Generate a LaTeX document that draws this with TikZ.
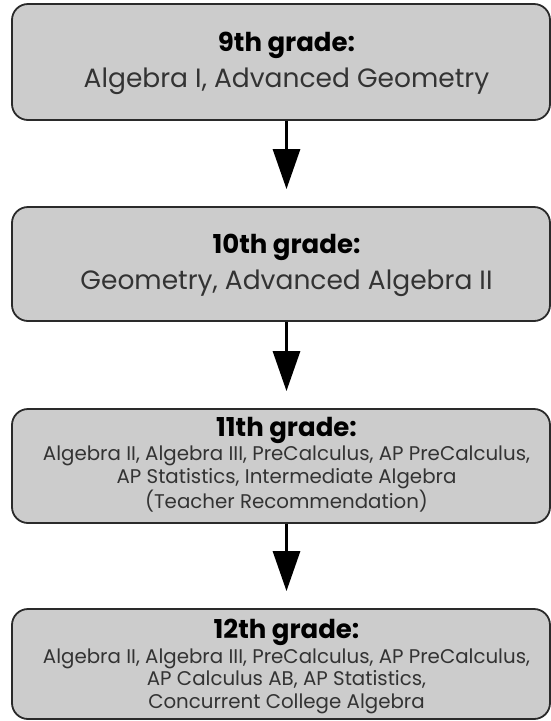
\documentclass[tikz,border=0pt]{standalone}
\usepackage{fontspec}
\setmainfont{Poppins}
\usetikzlibrary{arrows.meta, positioning}
\definecolor{boxgray}{HTML}{CCCCCC}
\definecolor{edgegray}{HTML}{2A2A2A}
\definecolor{textgray}{HTML}{333333}

\begin{document}
\begin{tikzpicture}[
    x=1pt, y=-1pt,
    gradebox/.style={draw=edgegray, fill=boxgray, line width=1.8pt, rounded corners=16pt, minimum width=538pt, inner sep=0pt},
    head/.style={font=\fontsize{26}{30}\selectfont\bfseries, text=black},
    body/.style={align=center, text=textgray, font=\fontsize{26.5}{30}\selectfont},
    small/.style={align=center, text=textgray, font=\fontsize{19.8}{22.5}\selectfont},
    arr/.style={-{Triangle[length=40pt, width=27pt]}, line width=3pt, shorten >=17pt}
]
    \useasboundingbox (0,0) rectangle (551,721);
    % boxes
    \node[gradebox, minimum height=116pt] (b9) at (281,62) {};
    \node[gradebox, minimum height=114pt] (b10) at (281,264) {};
    \node[gradebox, minimum height=114pt] (b11) at (281,466) {};
    \node[gradebox, minimum height=110pt] (b12) at (281,664) {};
    % texts
    \node[head] (h9) at (286.5,45) {9th grade:};
    \node[body] (t9) at (286.5,81) {Algebra I, Advanced Geometry};
    \node[head] (h10) at (286.5,247) {10th grade:};
    \node[body] (t10) at (286.5,283) {Geometry, Advanced Algebra II};
    \node[head] (h11) at (286.5,430) {11th grade:};
    \node[small] (t11) at (286.5,479) {Algebra II, Algebra III, PreCalculus, AP PreCalculus,\\
        AP Statistics, Intermediate Algebra\\(Teacher Recommendation)};
    \node[head] (h12) at (286.5,632) {12th grade:};
    \node[small] (t12) at (286.5,681) {Algebra II, Algebra III, PreCalculus, AP PreCalculus,\\
        AP Calculus AB, AP Statistics,\\Concurrent College Algebra};
    % arrows
    \foreach \a/\b in {9/10, 10/11, 11/12} {
        \draw[arr] (h9 |- b\a.south) -- (h9 |- b\b.north);
    }
\end{tikzpicture}
\end{document}
